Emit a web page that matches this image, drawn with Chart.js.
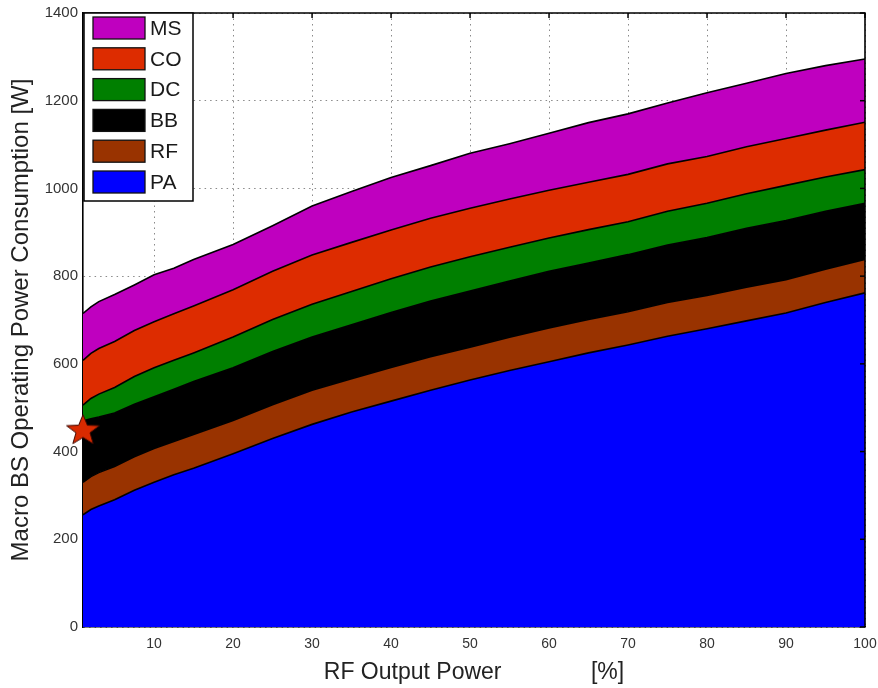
<!DOCTYPE html>
<html>
<head>
<meta charset="utf-8">
<script src="https://cdn.jsdelivr.net/npm/chart.js@4.4.1/dist/chart.umd.min.js"></script>
<style>
  html, body { margin: 0; padding: 0; background: #fff; }
  #wrap { width: 878px; height: 688px; }
</style>
</head>
<body>
<div id="wrap"><canvas id="c" width="878" height="688"></canvas></div>
<script>
// ---- data ----
const rfOutput = [1, 2, 3, 5, 7.5, 10, 12.5, 15, 20, 25, 30, 35, 40, 45, 50, 55, 60, 65, 70, 75, 80, 85, 90, 95, 100];
const PA = [256, 268, 276, 290, 312, 330, 347, 362, 395, 430, 462, 490, 515, 540, 563, 585, 605, 625, 643, 663, 680, 698, 716, 740, 762];
const RF = [74, 75, 76, 76, 76, 77, 76, 77, 76, 77, 78, 76, 77, 76, 75, 76, 77, 76, 76, 77, 76, 77, 76, 76, 76];
const BB = [140, 132, 127, 122, 120, 118, 119, 121, 120, 121, 121, 123, 125, 127, 128, 128, 129, 129, 130, 131, 132, 134, 135, 132, 128];
const DC = [36, 46, 52, 58, 63, 66, 66, 65, 70, 73, 75, 76, 77, 78, 78, 77, 76, 76, 75, 77, 78, 79, 80, 78, 77];
const CO = [102, 103, 104, 105, 105, 105, 106, 107, 108, 110, 112, 112, 111, 111, 111, 110, 109, 108, 108, 108, 107, 107, 107, 107, 108];
const MS = [107, 106, 107, 107, 104, 107, 104, 106, 103, 104, 112, 116, 120, 120, 125, 126, 130, 136, 138, 139, 145, 145, 148, 147, 144];
const seriesNames = ['PA', 'RF', 'BB', 'DC', 'CO', 'MS'];
const starX = [1];
const starY = [450];
const xTicks = [10, 20, 30, 40, 50, 60, 70, 80, 90, 100];
const yTicks = [0, 200, 400, 600, 800, 1000, 1200, 1400];

// ---- styles ----
const colors = {
  PA: '#0000ff', RF: '#993300', BB: '#000000', DC: '#007f00', CO: '#dd2c00', MS: '#bf00bf'
};
const FONT = '"Liberation Sans", Arial, Helvetica, sans-serif';

const valuesByName = { PA, RF, BB, DC, CO, MS };

function makeStar() {
  const c = document.createElement('canvas');
  c.width = 38; c.height = 36;
  const g = c.getContext('2d');
  g.beginPath();
  for (let i = 0; i < 10; i++) {
    const r = (i % 2) ? 6.8 : 16;
    const a = -Math.PI / 2 + i * Math.PI / 5;
    g.lineTo(19 + r * Math.cos(a) * 1.08, 19 + r * Math.sin(a));
  }
  g.closePath();
  g.fillStyle = '#d92a00';
  g.fill();
  g.strokeStyle = '#400a00';
  g.lineWidth = 1;
  g.stroke();
  return c;
}

const areaDatasets = seriesNames.map((name, i) => ({
  label: name,
  data: rfOutput.map((x, k) => ({ x: x, y: valuesByName[name][k] })),
  backgroundColor: colors[name],
  borderColor: '#000',
  borderWidth: 1.6,
  pointRadius: 0,
  tension: 0,
  fill: i === 0 ? 'origin' : '-1',
  stack: 'power'
}));

const starDataset = {
  label: 'star',
  data: starX.map((x, k) => ({ x: x, y: starY[k] })),
  showLine: false,
  pointStyle: makeStar(),
  pointRadius: 16,
  fill: false,
  stack: 'marker',
  order: -1,
  clip: false
};

const frame = {
  id: 'frame',
  afterDraw(chart) {
    const { ctx, chartArea: a, scales } = chart;
    ctx.save();
    // matlab-like inner ticks on top and right
    ctx.strokeStyle = '#000';
    ctx.lineWidth = 1.5;
    xTicks.forEach(v => {
      const px = scales.x.getPixelForValue(v);
      ctx.beginPath(); ctx.moveTo(px, a.top); ctx.lineTo(px, a.top + 5); ctx.stroke();
    });
    yTicks.forEach(v => {
      const py = scales.y.getPixelForValue(v);
      ctx.beginPath(); ctx.moveTo(a.right, py); ctx.lineTo(a.right - 5, py); ctx.stroke();
    });
    // box
    ctx.lineWidth = 1.6;
    ctx.beginPath();
    ctx.moveTo(a.left, a.top); ctx.lineTo(a.right, a.top); ctx.lineTo(a.right, a.bottom);
    ctx.stroke();

    // legend box
    const lx = a.left + 1, ly = a.top, lw = 109, lh = 188;
    ctx.fillStyle = '#fff';
    ctx.fillRect(lx, ly, lw, lh);
    ctx.strokeStyle = '#000';
    ctx.lineWidth = 1.5;
    ctx.strokeRect(lx, ly, lw, lh);
    const order = seriesNames.slice().reverse();
    ctx.font = '21px ' + FONT;
    ctx.textBaseline = 'middle';
    ctx.textAlign = 'left';
    order.forEach((name, k) => {
      const sy = ly + 4 + k * 30.8;
      ctx.fillStyle = colors[name];
      ctx.fillRect(lx + 9, sy, 52, 22);
      ctx.lineWidth = 1.3;
      ctx.strokeStyle = '#111';
      ctx.strokeRect(lx + 9, sy, 52, 22);
      ctx.fillStyle = '#1a1a1a';
      ctx.fillText(name, lx + 66, sy + 12);
    });
    ctx.restore();
  }
};

new Chart(document.getElementById('c'), {
  type: 'line',
  data: { datasets: areaDatasets.concat([starDataset]) },
  options: {
    responsive: false,
    animation: false,
    events: [],
    layout: { autoPadding: false, padding: { left: 0, top: 13, right: 13, bottom: 0 } },
    plugins: { legend: { display: false }, tooltip: { enabled: false } },
    scales: {
      x: {
        type: 'linear',
        min: 1,
        max: 100,
        afterBuildTicks: s => { s.ticks = xTicks.map(v => ({ value: v })); },
        afterFit: s => { s.height = 61; s.paddingLeft = 0; s.paddingRight = 0; },
        grid: { color: '#8a8a8a', lineWidth: 1, drawTicks: false },
        border: { color: '#000', width: 1.6, dash: [1.5, 4] },
        ticks: { color: '#333', font: { family: FONT, size: 14 }, padding: 9, maxRotation: 0, autoSkip: false,
                 callback: v => String(v) },
        title: {
          display: true,
          text: 'RF Output Power              [%]',
          color: '#222',
          font: { family: FONT, size: 23 },
          padding: { top: 0, bottom: 2 }
        }
      },
      y: {
        type: 'linear',
        stacked: true,
        min: 0,
        max: 1400,
        afterBuildTicks: s => { s.ticks = yTicks.map(v => ({ value: v })); },
        afterFit: s => { s.width = 83; s.paddingTop = 0; s.paddingBottom = 0; },
        grid: { color: '#8a8a8a', lineWidth: 1, drawTicks: false },
        border: { color: '#000', width: 1.6, dash: [1.5, 4] },
        ticks: { color: '#333', font: { family: FONT, size: 15 }, padding: 5, callback: v => String(v) },
        title: {
          display: true,
          text: 'Macro BS Operating Power Consumption [W]',
          color: '#222',
          font: { family: FONT, size: 24 },
          padding: { top: 7, bottom: 0 }
        }
      }
    }
  },
  plugins: [frame]
});
</script>
</body>
</html>
